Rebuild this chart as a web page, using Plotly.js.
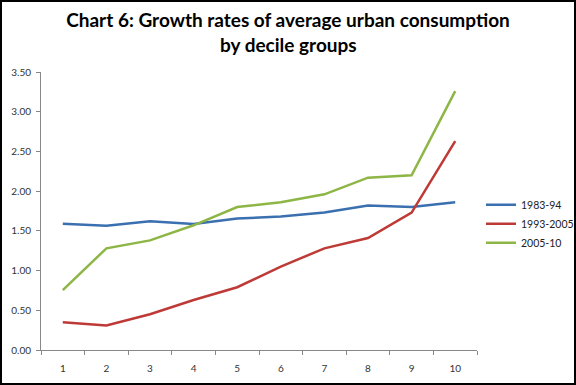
<!DOCTYPE html>
<html>
<head>
<meta charset="utf-8">
<script src="https://cdn.plot.ly/plotly-3.0.1.min.js"></script>
<style>
html,body{margin:0;padding:0;background:#fff;}
#chart{width:576px;height:385px;box-sizing:border-box;border:2px solid #000;}
</style>
</head>
<body>
<div id="chart"></div>
<script>
var deciles = ['1','2','3','4','5','6','7','8','9','10'];
var s1983_94 = [1.59, 1.565, 1.62, 1.585, 1.655, 1.68, 1.73, 1.82, 1.80, 1.86];
var s1993_2005 = [0.35, 0.31, 0.45, 0.63, 0.79, 1.05, 1.28, 1.41, 1.73, 2.63];
var s2005_10 = [0.755, 1.28, 1.38, 1.57, 1.80, 1.86, 1.96, 2.17, 2.20, 3.26];
var seriesNames = ['1983-94', '1993-2005', '2005-10'];
var colors = ['#3a6fb0', '#be3a36', '#8db646'];
var titleLine1 = 'Chart 6: Growth rates of average urban consumption';
var titleLine2 = 'by decile groups';

var data = [s1983_94, s1993_2005, s2005_10].map(function(v, i){
  return {x: deciles, y: v, type: 'scatter', mode: 'lines', name: seriesNames[i],
    line: {color: colors[i], width: 2.5}};
});

var fam = 'Lato, "Open Sans", sans-serif';
var axisFont = {family: fam, size: 10, color: '#333'};
var titleFont = {family: fam, size: 19, color: '#000', weight: 'bold'};
var layout = {
  width: 572, height: 381,
  margin: {l: 39, r: 0, t: 70, b: 33, autoexpand: false},
  paper_bgcolor: '#fff', plot_bgcolor: '#fff',
  title: {text: titleLine1, font: titleFont,
    x: 0.5, xref: 'container', xanchor: 'center', y: 0.952, yref: 'container', yanchor: 'middle'},
  annotations: [{text: titleLine2, font: titleFont, showarrow: false,
    xref: 'paper', x: (288 - 41) / 533, xanchor: 'center',
    yref: 'paper', y: 1.100, yanchor: 'middle'}],
  xaxis: {type: 'category', domain: [0, 436 / 533], range: [-0.5, 9.5],
    showgrid: false, zeroline: false, showline: true,
    linecolor: '#888', linewidth: 1, ticks: 'outside', ticklen: 4, tickcolor: '#888',
    tickson: 'boundaries', ticklabelstandoff: 9, tickfont: axisFont, fixedrange: true},
  yaxis: {range: [0, 3.5], dtick: 0.5, tickformat: '.2f', showgrid: false, zeroline: false,
    showline: true, linecolor: '#888', linewidth: 1, ticks: 'outside', ticklen: 4,
    tickcolor: '#888', ticklabelstandoff: 3, tickfont: axisFont, fixedrange: true},
  showlegend: true,
  legend: {x: 440 / 533, xanchor: 'left', y: 0.575, yanchor: 'top', itemwidth: 30,
    font: {family: fam, size: 10.5, color: '#222'},
    tracegroupgap: 0, bgcolor: 'rgba(0,0,0,0)'}
};

Plotly.newPlot('chart', data, layout, {displayModeBar: false, staticPlot: true});
</script>
</body>
</html>
